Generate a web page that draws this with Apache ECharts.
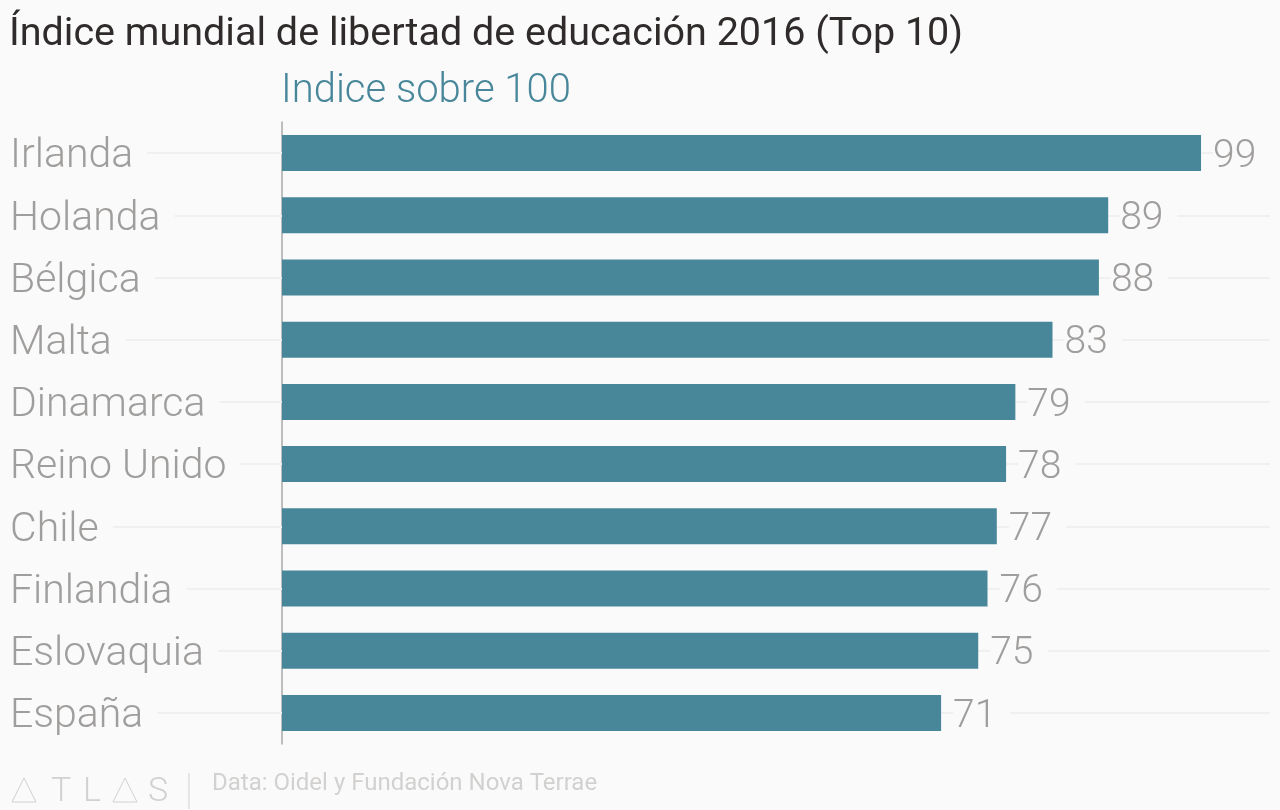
<!DOCTYPE html>
<html lang="es">
<head>
<meta charset="utf-8">
<title>Índice mundial de libertad de educación 2016</title>
<script src="https://cdn.jsdelivr.net/npm/echarts@6/dist/echarts.min.js"></script>
<style>
  html, body { margin: 0; padding: 0; background: #fafafa; }
  #chart { width: 1280px; height: 810px; }
</style>
</head>
<body>
<div id="chart"></div>
<script>
var countries = ['Irlanda', 'Holanda', 'Bélgica', 'Malta', 'Dinamarca', 'Reino Unido', 'Chile', 'Finlandia', 'Eslovaquia', 'España'];
var scores = [99, 89, 88, 83, 79, 78, 77, 76, 75, 71];

var BG = '#fafafa';
var BAR = '#48879a';
var GREY = '#a09e9d';
var RULE = '#f0f0f0';
var FOOT = '#d2d1d0';
var FONT = 'Roboto, sans-serif';

var chart = echarts.init(document.getElementById('chart'));

chart.setOption({
    backgroundColor: BG,
    animation: false,
    title: [
        {
            text: 'Índice mundial de libertad de educación 2016 (Top 10)',
            left: 4, top: 10,
            textStyle: { color: '#2f2b2b', fontFamily: FONT, fontWeight: 400, fontSize: 39.5, lineHeight: 40 }
        },
        {
            text: 'Indice sobre 100',
            left: 276, top: 65,
            textStyle: { color: BAR, fontFamily: FONT, fontWeight: 300, fontSize: 40, lineHeight: 44 }
        }
    ],
    grid: { left: 282, right: 10, top: 122, bottom: 66 },
    xAxis: {
        type: 'value', min: 0, max: 106.43,
        axisLine: { show: false }, axisTick: { show: false }, axisLabel: { show: false },
        splitLine: { show: false }
    },
    yAxis: {
        type: 'category', inverse: true, data: countries,
        axisLine: { show: true, lineStyle: { color: '#a8a8a8', width: 1.5 } },
        // la marca larga es la guía gris; la etiqueta la tapa con su fondo
        axisTick: { show: true, alignWithLabel: true, length: 272, lineStyle: { color: RULE, width: 2 } },
        splitLine: { show: true, alignWithLabel: true, lineStyle: { color: RULE, width: 2 } },
        axisLabel: {
            margin: 272, align: 'left',
            backgroundColor: BG, padding: [0, 14, 0, 0],
            formatter: function (name) { return '{a|' + name + '}'; },
            // verticalAlign bottom dentro de una línea más alta baja el texto unos px
            rich: { a: { color: GREY, fontFamily: FONT, fontWeight: 300, fontSize: 41, lineHeight: 49, verticalAlign: 'bottom' } }
        }
    },
    series: [{
        type: 'bar',
        data: scores,
        barWidth: 36,
        itemStyle: { color: BAR },
        label: {
            show: true, position: 'right', distance: 12, offset: [0, 4], color: GREY, fontFamily: FONT, fontWeight: 300, fontSize: 39,
            backgroundColor: BG, padding: [0, 14, 0, 0]
        }
    }],
    graphic: [
        { type: 'polygon', shape: { points: [[12, 802], [24, 778], [36, 802]] }, style: { fill: 'none', stroke: FOOT, lineWidth: 1 } },
        { type: 'text', left: 51, top: 775, style: { text: 'T', fill: FOOT, font: '300 34px ' + FONT } },
        { type: 'text', left: 83, top: 775, style: { text: 'L', fill: FOOT, font: '300 34px ' + FONT } },
        { type: 'polygon', shape: { points: [[113, 802], [125, 778], [137, 802]] }, style: { fill: 'none', stroke: FOOT, lineWidth: 1 } },
        { type: 'text', left: 148, top: 775, style: { text: 'S', fill: FOOT, font: '300 34px ' + FONT } },
        { type: 'line', shape: { x1: 189, y1: 773, x2: 189, y2: 809 }, style: { stroke: FOOT, lineWidth: 1 } },
        { type: 'text', left: 212, top: 772, style: { text: 'Data: Oidel y Fundación Nova Terrae', fill: FOOT, font: '400 24px ' + FONT } }
    ]
});
</script>
</body>
</html>
